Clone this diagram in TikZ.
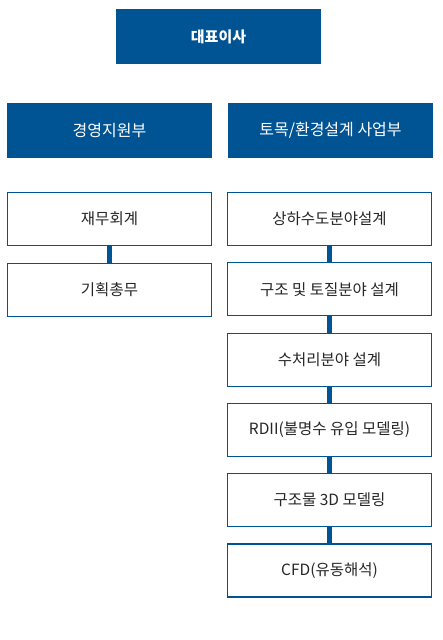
\documentclass[tikz,border=0pt]{standalone}
\usepackage{fontspec}
\setmainfont{Noto Sans CJK KR}
\usetikzlibrary{positioning}
\definecolor{orgblue}{RGB}{0,84,148}

\begin{document}
\begin{tikzpicture}[x=1pt, y=-1pt, font=\fontsize{15.5}{18}\selectfont,
    head/.style={fill=orgblue, text=white, minimum width=205pt, minimum height=55pt, inner sep=0pt},
    unit/.style={draw=orgblue, line width=1.2pt, fill=white, text=black!85, minimum width=204pt, minimum height=53pt, inner sep=0pt},
    link/.style={draw=orgblue, line width=5pt}]
    \useasboundingbox (0,0) rectangle (442,640);
    % top and the two divisions
    \node[head, font=\fontsize{15}{18}\selectfont\bfseries] (ceo) at (218.5,36.5) {대표이사};
    \node[head, font=\fontsize{16}{18}\selectfont] (mgmt) at (109.5,130.5) {경영지원부};
    \node[head, font=\fontsize{16}{18}\selectfont] (civil) at (330.5,130.5) {토목/환경설계 사업부};
    % left column
    \node[unit] (l1) at (109.5,219) {재무회계};
    \node[unit] (l2) at (109.5,290) {기획총무};
    \draw[link] (l1.south) -- (l2.north);
    % right column, one box every 70pt
    \foreach \t [count=\i] in {상하수도분야설계, 구조 및 토질분야 설계, 수처리분야 설계,
        RDII(불명수 유입 모델링), 구조물 3D 모델링, CFD(유동해석)}
      \node[unit] (r\i) at (329.5,{219+70.3*(\i-1)}) {\t};
    \foreach \i [evaluate=\i as \j using int(\i+1)] in {1,...,5}
      \draw[link] (r\i.south) -- (r\j.north);
\end{tikzpicture}
\end{document}
